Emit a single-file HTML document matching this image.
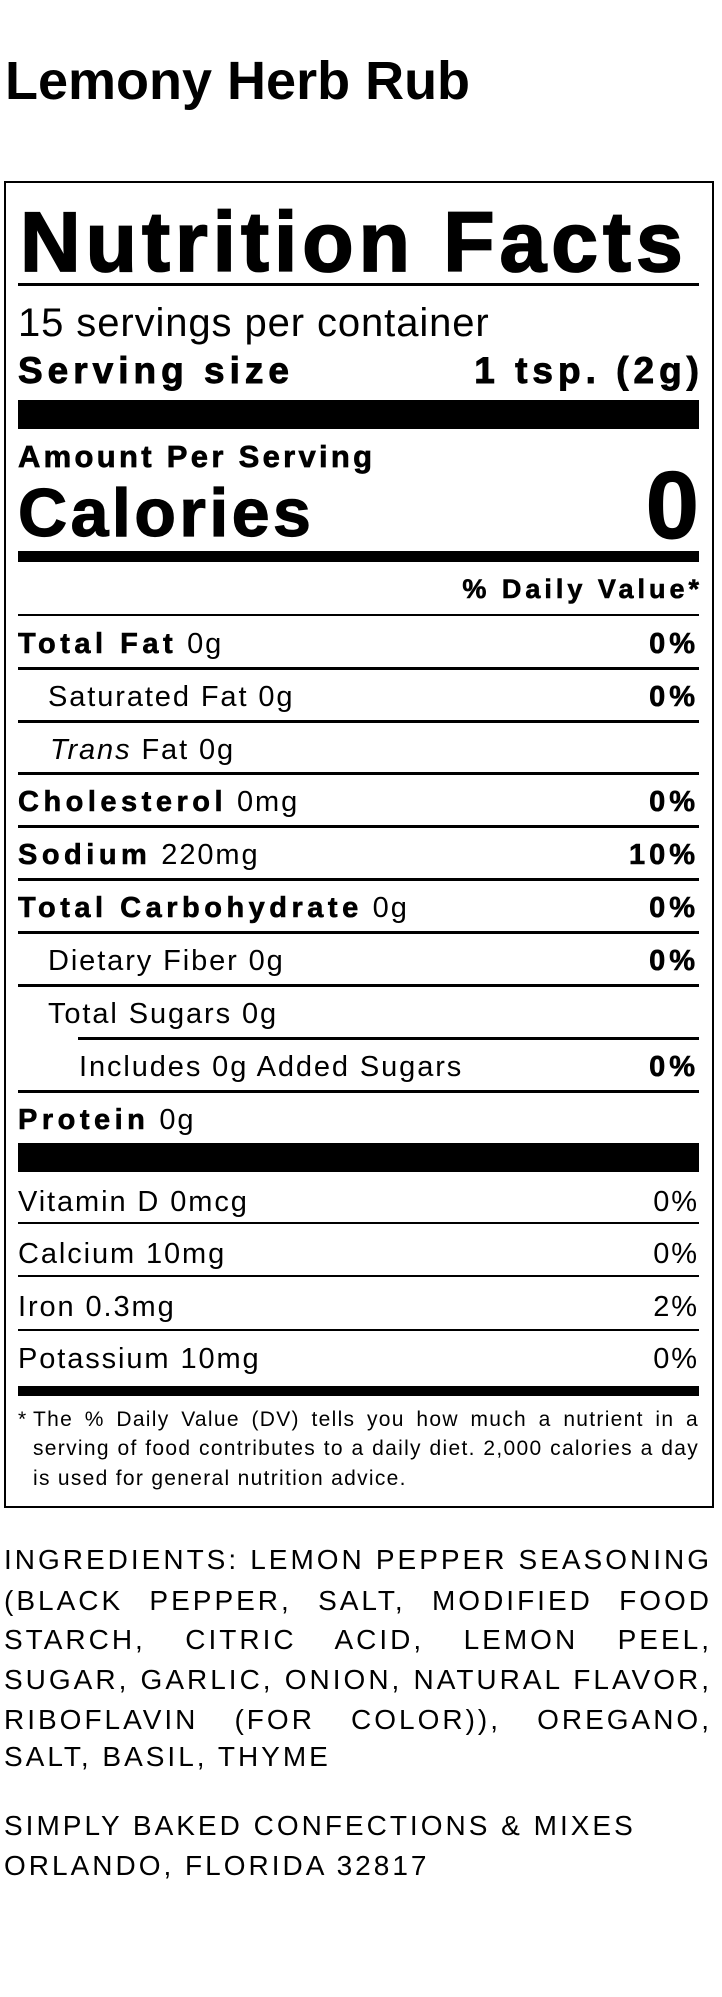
<!DOCTYPE html>
<html><head><meta charset="utf-8"><style>
html,body{margin:0;padding:0;background:#fff;}
body{width:722px;height:1997px;position:relative;overflow:hidden;font-family:"Liberation Sans",Arial,sans-serif;color:#000;}
.a{position:absolute;white-space:nowrap;line-height:normal;}
.r{right:23px;text-align:right;}
.b{font-weight:bold;}
.h{position:absolute;left:18px;width:681px;background:#000;}
.row{font-size:29px;letter-spacing:1.9px;}
.row b,.row.b{letter-spacing:4.5px;-webkit-text-stroke:0.6px #000;}
.r.row{letter-spacing:1.9px;}
.r.row.b{letter-spacing:4px;}
.j{position:absolute;text-align:justify;text-align-last:justify;white-space:nowrap;}
.ing{font-size:28px;letter-spacing:3px;}
.fn{font-size:21px;letter-spacing:1.3px;}
</style></head><body>
<div class="a b" style="left:5px;top:50px;font-size:54px;">Lemony Herb Rub</div>
<div style="position:absolute;left:4px;top:181px;width:706px;height:1323px;border:2.5px solid #000;"></div>
<div class="a b" style="left:20px;top:194px;font-size:84px;letter-spacing:5px;-webkit-text-stroke:1.8px #000;">Nutrition Facts</div>
<div class="h" style="top:283px;height:3px;"></div>
<div class="a" style="left:18px;top:301px;font-size:40px;letter-spacing:0.9px;">15 servings per container</div>
<div class="a b" style="left:18px;top:350px;font-size:37px;letter-spacing:5px;-webkit-text-stroke:0.9px #000;">Serving size</div>
<div class="a b r" style="top:350px;font-size:37px;letter-spacing:5px;-webkit-text-stroke:0.9px #000;right:18px;">1 tsp. (2g)</div>
<div class="h" style="top:400px;height:29px;"></div>
<div class="a b" style="left:18px;top:439px;font-size:31px;letter-spacing:3.3px;-webkit-text-stroke:0.7px #000;">Amount Per Serving</div>
<div class="a b" style="left:18px;top:474px;font-size:68px;letter-spacing:3.5px;-webkit-text-stroke:1.2px #000;">Calories</div>
<div class="a b r" style="top:451px;font-size:96px;-webkit-text-stroke:1px #000;">0</div>
<div class="h" style="top:551px;height:11px;"></div>
<div class="a b r" style="top:574px;font-size:27px;letter-spacing:4px;-webkit-text-stroke:0.6px #000;right:19px;">% Daily Value*</div>
<div class="h" style="top:614px;height:2px;"></div>

<div class="a row" style="left:18px;top:628px;"><b>Total Fat</b> 0g</div><div class="a row b r" style="top:628px;">0%</div>
<div class="h" style="top:667px;height:3px;"></div>
<div class="a row" style="left:48px;top:681px;">Saturated Fat 0g</div><div class="a row b r" style="top:681px;">0%</div>
<div class="h" style="top:720px;height:3px;"></div>
<div class="a row" style="left:50px;top:734px;"><i>Trans</i> Fat 0g</div>
<div class="h" style="top:772px;height:3px;"></div>
<div class="a row" style="left:18px;top:786px;"><b>Cholesterol</b> 0mg</div><div class="a row b r" style="top:786px;">0%</div>
<div class="h" style="top:825px;height:3px;"></div>
<div class="a row" style="left:18px;top:839px;"><b>Sodium</b> 220mg</div><div class="a row b r" style="top:839px;">10%</div>
<div class="h" style="top:878px;height:3px;"></div>
<div class="a row" style="left:18px;top:892px;"><b>Total Carbohydrate</b> 0g</div><div class="a row b r" style="top:892px;">0%</div>
<div class="h" style="top:931px;height:3px;"></div>
<div class="a row" style="left:48px;top:945px;">Dietary Fiber 0g</div><div class="a row b r" style="top:945px;">0%</div>
<div class="h" style="top:984px;height:3px;"></div>
<div class="a row" style="left:48px;top:998px;">Total Sugars 0g</div>
<div class="h" style="top:1037px;height:3px;left:78px;width:621px;"></div>
<div class="a row" style="left:79px;top:1051px;">Includes 0g Added Sugars</div><div class="a row b r" style="top:1051px;">0%</div>
<div class="h" style="top:1090px;height:3px;"></div>
<div class="a row" style="left:18px;top:1104px;"><b>Protein</b> 0g</div>
<div class="h" style="top:1143px;height:29px;"></div>

<div class="a row" style="left:18px;top:1186px;">Vitamin D 0mcg</div><div class="a row r" style="top:1186px;">0%</div>
<div class="h" style="top:1222px;height:2px;"></div>
<div class="a row" style="left:18px;top:1238px;">Calcium 10mg</div><div class="a row r" style="top:1238px;">0%</div>
<div class="h" style="top:1275px;height:2px;"></div>
<div class="a row" style="left:18px;top:1291px;">Iron 0.3mg</div><div class="a row r" style="top:1291px;">2%</div>
<div class="h" style="top:1329px;height:2px;"></div>
<div class="a row" style="left:18px;top:1343px;">Potassium 10mg</div><div class="a row r" style="top:1343px;">0%</div>
<div class="h" style="top:1386px;height:10px;"></div>

<div class="a fn" style="left:18px;top:1408px;">*</div>
<div class="j fn" style="left:33px;width:666px;top:1408px;">The % Daily Value (DV) tells you how much a nutrient in a</div>
<div class="j fn" style="left:33px;width:666px;top:1437px;">serving of food contributes to a daily diet. 2,000 calories a day</div>
<div class="a fn" style="left:33px;top:1467px;">is used for general nutrition advice.</div>

<div class="j ing" style="left:4px;width:708px;top:1544px;">INGREDIENTS: LEMON PEPPER SEASONING</div>
<div class="j ing" style="left:4px;width:708px;top:1585px;">(BLACK PEPPER, SALT, MODIFIED FOOD</div>
<div class="j ing" style="left:4px;width:708px;top:1624px;">STARCH, CITRIC ACID, LEMON PEEL,</div>
<div class="j ing" style="left:4px;width:708px;top:1664px;">SUGAR, GARLIC, ONION, NATURAL FLAVOR,</div>
<div class="j ing" style="left:4px;width:708px;top:1704px;">RIBOFLAVIN (FOR COLOR)), OREGANO,</div>
<div class="a ing" style="left:4px;top:1741px;">SALT, BASIL, THYME</div>
<div class="a ing" style="left:4px;top:1810px;">SIMPLY BAKED CONFECTIONS &amp; MIXES</div>
<div class="a ing" style="left:4px;top:1850px;">ORLANDO, FLORIDA 32817</div>
</body></html>
